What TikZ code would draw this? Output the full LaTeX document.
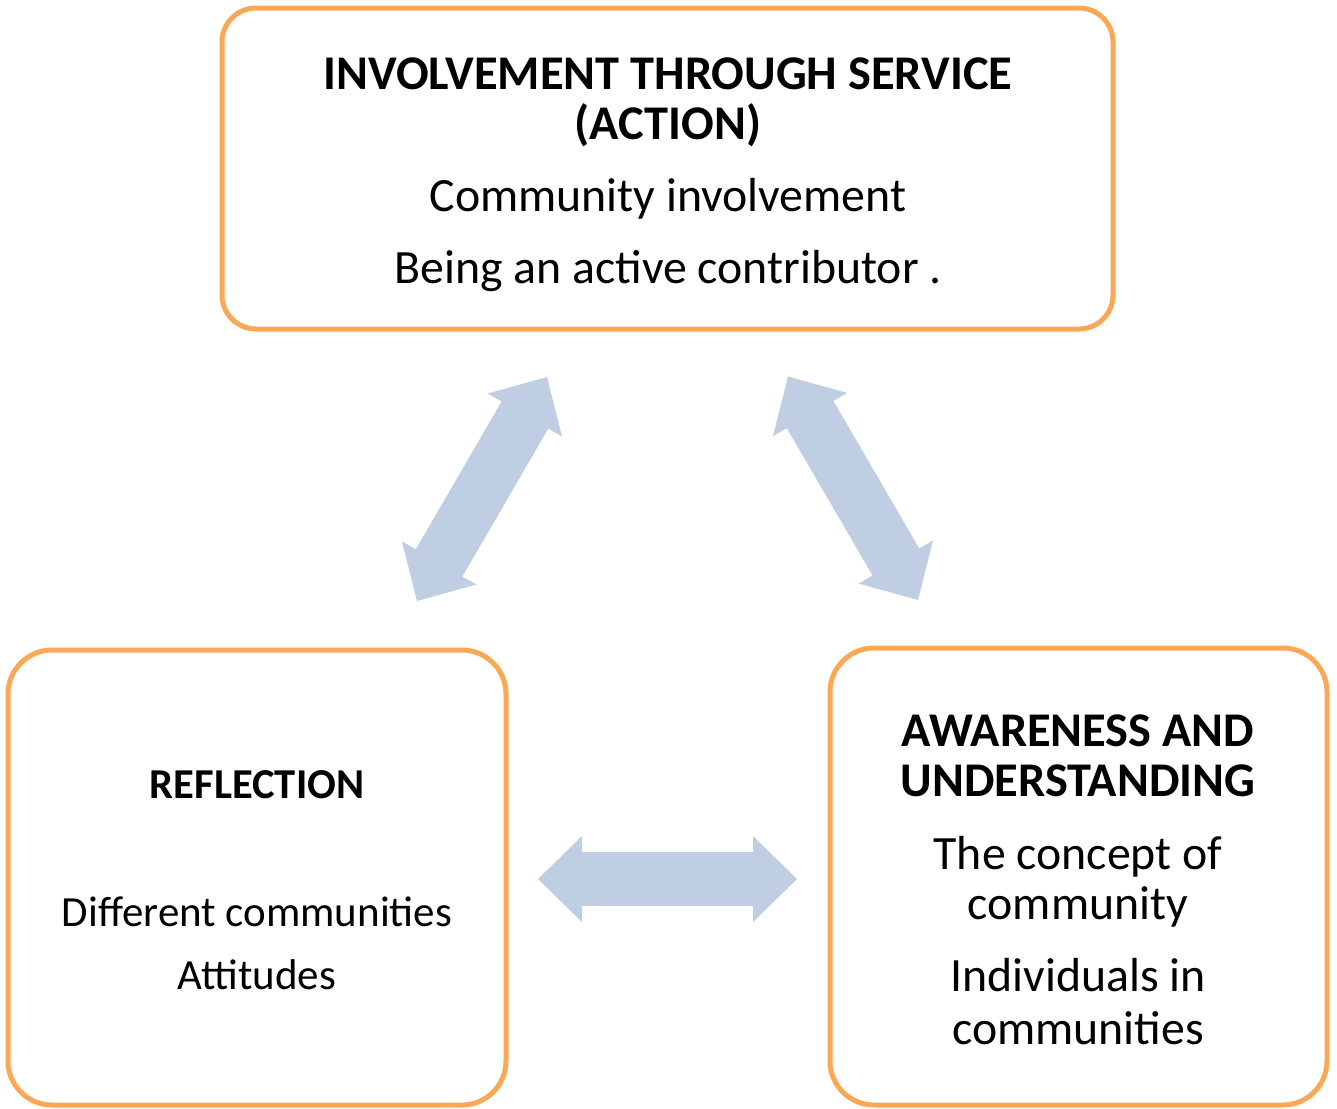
\documentclass[tikz,border=0pt]{standalone}
\usepackage{fontspec}
\setmainfont{Carlito}
\usetikzlibrary{calc}
\definecolor{boxorange}{RGB}{250,168,86}
\definecolor{arrowblue}{RGB}{191,206,227}
\tikzset{
  box/.style={draw=boxorange, line width=2.5pt, fill=white, inner sep=0pt, outer sep=0pt},
  ttl/.style={anchor=base, inner sep=0pt, font=\fontsize{24.2}{28}\selectfont\bfseries},
  txt/.style={anchor=base, inner sep=0pt, font=\fontsize{23.9}{28}\selectfont},
  ttlsmall/.style={anchor=base, inner sep=0pt, font=\fontsize{21.3}{25}\selectfont\bfseries},
  txtsmall/.style={anchor=base, inner sep=0pt, font=\fontsize{21.5}{25}\selectfont},
  blockarrowfill/.style={fill=arrowblue}
}
\newcommand\blockarrow[2]{%
  \fill[blockarrowfill] (#1)
   -- ($(#1)!22pt!(#2)!21.5pt!90:(#2)$)
   -- ($(#1)!22pt!(#2)!13.5pt!90:(#2)$)
   -- ($(#2)!22pt!(#1)!13.5pt!-90:(#1)$)
   -- ($(#2)!22pt!(#1)!21.5pt!-90:(#1)$)
   -- (#2)
   -- ($(#2)!22pt!(#1)!21.5pt!90:(#1)$)
   -- ($(#2)!22pt!(#1)!13.5pt!90:(#1)$)
   -- ($(#1)!22pt!(#2)!13.5pt!-90:(#2)$)
   -- ($(#1)!22pt!(#2)!21.5pt!-90:(#2)$)
   -- cycle;}
\begin{document}
\begin{tikzpicture}[x=0.5pt,y=-0.5pt]
\useasboundingbox (0,0) rectangle (1337,1108);
% boxes
\node[box, rounded corners=17pt, minimum width=445.5pt, minimum height=160.5pt] (action) at (667.5,168.5) {};
\node[box, rounded corners=22pt, minimum width=249pt, minimum height=227.5pt] (reflection) at (257,877.5) {};
\node[box, rounded corners=22pt, minimum width=248.5pt, minimum height=228.5pt] (awareness) at (1078.5,876.5) {};
% top texts
\node[ttl] (t1) at (668,89) {INVOLVEMENT THROUGH SERVICE};
\node[ttl] (t2) at (668,139) {(ACTION)};
\node[txt] (t3) at (668,211) {Community involvement};
\node[txt] (t4) at (668,283) {Being an active contributor .};
% left texts
\node[ttlsmall] (l1) at (257,798) {REFLECTION};
\node[txtsmall] (l2) at (257,926) {Different communities};
\node[txtsmall] (l3) at (257,989) {Attitudes};
% right texts
\node[ttl] (r1) at (1078,746) {AWARENESS AND};
\node[ttl] (r2) at (1078,796) {UNDERSTANDING};
\node[txt] (r3) at (1078,869) {The concept of};
\node[txt] (r4) at (1078,919) {community};
\node[txt] (r5) at (1078,991) {Individuals in};
\node[txt] (r6) at (1078,1044) {communities};
% arrows
\coordinate (hA) at (538,879);
\coordinate (hB) at (797,879);
\coordinate (lA) at (417,601);
\coordinate (lB) at (547,377);
\coordinate (rA) at (788,376.5);
\coordinate (rB) at (918,600);
\blockarrow{hA}{hB}
\blockarrow{lA}{lB}
\blockarrow{rA}{rB}
\end{tikzpicture}
\end{document}
